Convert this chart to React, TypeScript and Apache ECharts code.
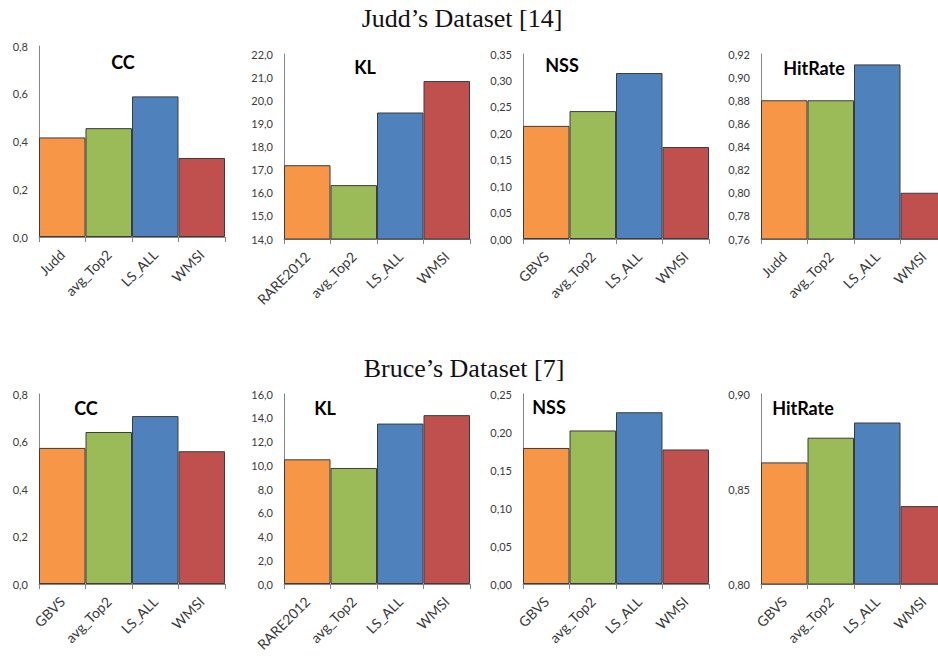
import React, { useEffect, useRef } from 'react';
import * as echarts from 'echarts';

// ---- data ----
const methodColors = ['#F79646', '#9BBB59', '#4F81BD', '#C0504D'];

const juddCCCats = ['Judd', 'avg_Top2', 'LS_ALL', 'WMSI'];
const juddKLCats = ['RARE2012', 'avg_Top2', 'LS_ALL', 'WMSI'];
const juddNSSCats = ['GBVS', 'avg_Top2', 'LS_ALL', 'WMSI'];
const juddHitRateCats = ['Judd', 'avg_Top2', 'LS_ALL', 'WMSI'];
const bruceCCCats = ['GBVS', 'avg_Top2', 'LS_ALL', 'WMSI'];
const bruceKLCats = ['RARE2012', 'avg_Top2', 'LS_ALL', 'WMSI'];
const bruceNSSCats = ['GBVS', 'avg_Top2', 'LS_ALL', 'WMSI'];
const bruceHitRateCats = ['GBVS', 'avg_Top2', 'LS_ALL', 'WMSI'];

const juddCC = [0.417, 0.456, 0.589, 0.331];
const juddKL = [17.19, 16.33, 19.47, 20.83];
const juddNSS = [0.214, 0.242, 0.314, 0.174];
const juddHitRate = [0.88, 0.88, 0.911, 0.8];
const bruceCC = [0.573, 0.64, 0.707, 0.559];
const bruceKL = [10.5, 9.77, 13.51, 14.22];
const bruceNSS = [0.179, 0.202, 0.226, 0.177];
const bruceHitRate = [0.864, 0.877, 0.885, 0.841];

const metricTitles = ['CC', 'KL', 'NSS', 'HitRate'];
const datasetTitles = ['Judd\u2019s Dataset [14]', 'Bruce\u2019s Dataset [7]'];

// y-axis ranges: [min, max, interval, decimals]
const juddRanges = [
  [0, 0.8, 0.2, 1],
  [14, 22, 1, 1],
  [0, 0.35, 0.05, 2],
  [0.76, 0.92, 0.02, 2],
];
const bruceRanges = [
  [0, 0.8, 0.2, 1],
  [0, 16, 2, 1],
  [0, 0.25, 0.05, 2],
  [0.8, 0.9, 0.05, 2],
];

// ---- layout (positions only) ----
const gridLefts = [39, 284, 523, 761];
const gridWidth = 186;
const topGrids = [
  { top: 46, height: 191 },
  { top: 54, height: 185 },
  { top: 54, height: 185 },
  { top: 54, height: 185 },
];
const bottomGrids = [
  { top: 394, height: 190 },
  { top: 394, height: 190 },
  { top: 394, height: 190 },
  { top: 394, height: 190 },
];
const topTitlePos = [[123, 62], [365, 67], [562, 65], [814, 68]];
const bottomTitlePos = [[86, 408], [325, 408], [549, 407], [803, 408]];

export default function App() {
  const ref = useRef<HTMLDivElement>(null);

  useEffect(() => {
    document.body.style.margin = '0';
    if (!ref.current) return;
    const chart = echarts.init(ref.current, null, { renderer: 'svg' });

    const panelCats = [juddCCCats, juddKLCats, juddNSSCats, juddHitRateCats, bruceCCCats, bruceKLCats, bruceNSSCats, bruceHitRateCats];
    const panelValues = [juddCC, juddKL, juddNSS, juddHitRate, bruceCC, bruceKL, bruceNSS, bruceHitRate];
    const panelRanges = [...juddRanges, ...bruceRanges];
    const panelGrids = [...topGrids, ...bottomGrids].map((g, i) => ({
      left: gridLefts[i % 4],
      width: gridWidth,
      top: g.top,
      height: g.height,
    }));

    const axisGray = '#868686';
    const labelColor = '#3a3a3a';

    const grid = panelGrids.map((g) => ({ ...g, containLabel: false, outerBoundsMode: 'none' }));
    const xAxis = panelCats.map((cats, i) => ({
      type: 'category',
      gridIndex: i,
      data: cats,
      boundaryGap: true,
      axisLine: { show: true, lineStyle: { color: axisGray, width: 1 } },
      axisTick: { show: true, length: 5, lineStyle: { color: axisGray } },
      axisLabel: {
        rotate: 45,
        margin: 15,
        interval: 0,
        color: labelColor,
        fontFamily: 'Lato',
        fontSize: 14,
      },
    }));
    const yAxis = panelRanges.map((r, i) => ({
      type: 'value',
      gridIndex: i,
      min: r[0],
      max: r[1],
      interval: r[2],
      splitLine: { show: false },
      axisLine: { show: true, lineStyle: { color: axisGray, width: 1 } },
      axisTick: { show: false },
      axisLabel: {
        margin: 11,
        color: labelColor,
        fontFamily: 'Lato',
        fontSize: 11,
        formatter: (v: number) => v.toFixed(r[3] as number).replace('.', ','),
      },
    }));
    const series = panelValues.map((vals, i) => ({
      type: 'bar',
      xAxisIndex: i,
      yAxisIndex: i,
      barCategoryGap: '0%',
      data: vals.map((v, j) => ({
        value: v,
        itemStyle: { color: methodColors[j], borderColor: '#3c3c3c', borderWidth: 1 },
      })),
    }));

    const titlePositions = [...topTitlePos, ...bottomTitlePos];
    const graphic: any[] = titlePositions.map((p, i) => ({
      type: 'text',
      x: p[0],
      y: p[1],
      z: 100,
      style: {
        text: metricTitles[i % 4],
        font: 'bold 18px Lato',
        fill: '#000',
        align: 'center',
        verticalAlign: 'middle',
      },
    }));
    graphic.push(
      {
        type: 'text',
        x: 462,
        y: 18,
        style: { text: datasetTitles[0], font: '26px "Liberation Serif"', fill: '#111', align: 'center', verticalAlign: 'middle' },
      },
      {
        type: 'text',
        x: 464,
        y: 368,
        style: { text: datasetTitles[1], font: '26px "Liberation Serif"', fill: '#111', align: 'center', verticalAlign: 'middle' },
      }
    );

    chart.setOption({
      animation: false,
      backgroundColor: '#fff',
      grid,
      xAxis,
      yAxis,
      series,
      graphic,
    });

    return () => chart.dispose();
  }, []);

  return <div ref={ref} style={{ width: 938, height: 656, position: 'absolute', left: 0, top: 0 }} />;
}
